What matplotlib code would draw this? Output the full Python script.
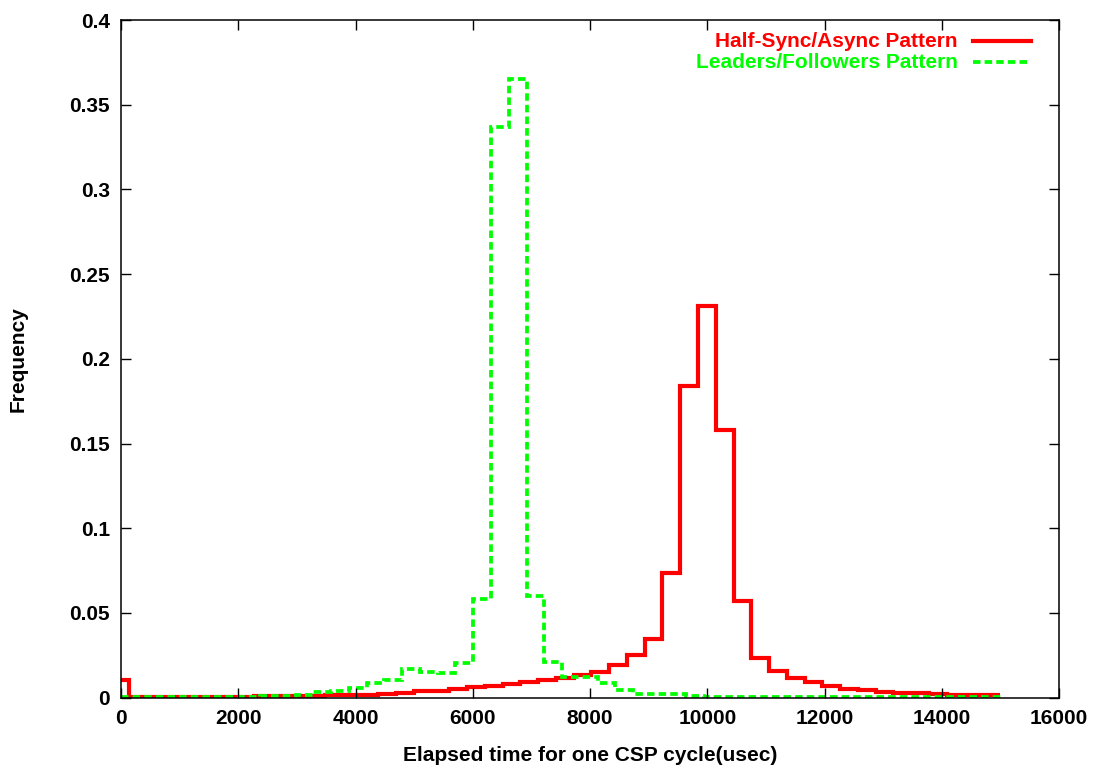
import numpy as np
import matplotlib
matplotlib.use("Agg")
import matplotlib.pyplot as plt

plt.rcParams['font.family'] = ['Liberation Sans', 'DejaVu Sans']
plt.rcParams['font.weight'] = 'bold'

# histogram bins (usec), width ~303
bin_width = 303
red_first_edge = 145
green_first_edge = 250

# Half-Sync/Async Pattern: first bin is [0, 145], then regular bins
half_sync = [0.0105,
             0.0002, 0.0002, 0.0003, 0.0003, 0.0004, 0.0005, 0.0006, 0.0007,
             0.0008, 0.0009, 0.0011, 0.0013, 0.0015, 0.0018, 0.0022, 0.0030,
             0.0037, 0.0042, 0.0053, 0.0063, 0.0071, 0.0081, 0.0093, 0.0104,
             0.0116, 0.0132, 0.0154, 0.0195, 0.0252, 0.0347, 0.0734, 0.184,
             0.231, 0.158, 0.057, 0.0236, 0.0159, 0.0118, 0.0094, 0.0071,
             0.0053, 0.0044, 0.0035, 0.0030, 0.0025, 0.0023, 0.0015, 0.0014,
             0.0013]

# Leaders/Followers Pattern: first bin is [0, 250], last ends at 15000
leaders = [0.0002,
           0.0002, 0.0002, 0.0002, 0.0002, 0.0003, 0.0004, 0.0005, 0.0007,
           0.0010, 0.0014, 0.0036, 0.0040, 0.0055, 0.0087, 0.0107, 0.0168,
           0.0150, 0.0146, 0.0203, 0.058, 0.337, 0.365, 0.060, 0.021,
           0.0125, 0.0122, 0.0089, 0.0045, 0.0023, 0.0022, 0.0020, 0.0007,
           0.0004, 0.0003, 0.0003, 0.0003, 0.0002, 0.0002, 0.0002, 0.0002,
           0.0002, 0.0002, 0.0002, 0.0002, 0.0002, 0.0002, 0.0002, 0.0002,
           0.0002]

labels = ["Half-Sync/Async Pattern", "Leaders/Followers Pattern"]


def make_edges(first, n_values, end=None):
    edges = [0] + [first + bin_width * k for k in range(n_values)]
    if end is not None:
        edges[-1] = end
    return np.array(edges, dtype=float)


red_edges = make_edges(red_first_edge, len(half_sync))
green_edges = make_edges(green_first_edge, len(leaders), end=15000)

green_dash = (0, (2.0, 1.1))

fig = plt.figure(figsize=(11.05, 7.71), dpi=100)
ax = fig.add_axes([0.1095, 0.0951, 0.849, 0.8789])

ax.stairs(half_sync, red_edges, color="#ff0000", linewidth=3, baseline=None)
ax.stairs(leaders, green_edges, color="#00ff00", linewidth=2.7,
          linestyle=green_dash, baseline=None)

ax.set_xlim(0, 16000)
ax.set_ylim(0, 0.4)
ax.set_xticks(np.arange(0, 16001, 2000))
ax.set_yticks(np.arange(0, 0.401, 0.05))
ax.set_yticklabels(["%g" % round(v, 2) for v in np.arange(0, 0.401, 0.05)])
ax.tick_params(direction="in", length=7, width=1, top=True, right=True,
               labelsize=15, pad=8)
for s in ax.spines.values():
    s.set_linewidth(1.1)

ax.set_xlabel("Elapsed time for one CSP cycle(usec)", fontsize=15,
              fontweight="bold", labelpad=13)
ax.set_ylabel("Frequency", fontsize=15, fontweight="bold", labelpad=30)

# gnuplot-style key: text right aligned, sample line on the right
key_colors = ["#ff0000", "#00ff00"]
key_styles = ["-", green_dash]
key_widths = [3, 2.7]
for i, lab in enumerate(labels):
    y = 0.969 - i * 0.031
    ax.text(0.892, y, lab, color=key_colors[i], fontsize=15,
            fontweight="bold", ha="right", va="center", transform=ax.transAxes)
    ax.plot([0.908, 0.970], [y, y], color=key_colors[i],
            linestyle=key_styles[i], linewidth=key_widths[i],
            transform=ax.transAxes, clip_on=False)

fig.savefig("out.png", dpi=100)
